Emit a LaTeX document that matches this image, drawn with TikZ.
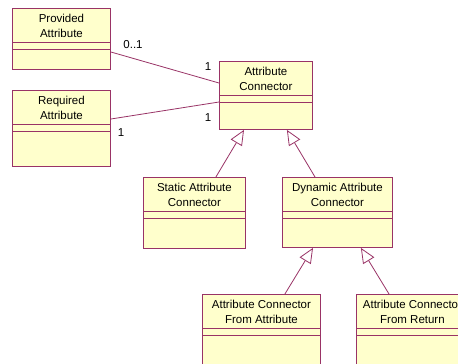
\documentclass[tikz,border=0pt]{standalone}
\usepackage{fontspec}
\setmainfont{Liberation Sans}
\usetikzlibrary{arrows.meta,calc}

\definecolor{umlfill}{RGB}{255,255,204}
\definecolor{umlline}{RGB}{153,51,102}

\tikzset{
  cls/.style={draw=umlline, fill=umlfill, line width=0.9pt, rectangle,
    anchor=north west, inner sep=0pt},
  title/.style={font=\fontsize{11.5}{15}\selectfont, align=center,
    inner sep=0pt, text=black},
  mult/.style={font=\fontsize{11.5}{14}\selectfont, inner sep=0pt, text=black},
  assoc/.style={draw=umlline, line width=0.8pt},
  gen/.style={draw=umlline, line width=0.8pt,
    -{Triangle[open, length=15pt, width=13pt, fill=white]}},
}

% a class box: name, corner (x,y), width, height, title text
\newcommand{\umlclass}[6]{%
  \node[cls, minimum width=#4, minimum height=#5] (#1) at (#2,#3) {};
  \draw[umlline, line width=0.8pt]
    ([yshift=-34pt]#1.north west) -- ([yshift=-34pt]#1.north east)
    ([yshift=-41pt]#1.north west) -- ([yshift=-41pt]#1.north east);
  \node[title] (#1-name) at ([yshift=-17.5pt]#1.north) {#6};
}

\begin{document}
\begin{tikzpicture}[x=1pt, y=-1pt]
  \clip (0,0) rectangle (458,364);
  \fill[white] (0,0) rectangle (458,364);

  \umlclass{prov}{12}{8}{98}{61}{Provided\\Attribute}
  \umlclass{req}{12}{90}{98}{76}{Required\\Attribute}
  \umlclass{ac}{219}{61}{93}{68}{Attribute\\Connector}
  \umlclass{stat}{143}{177}{102}{71}{Static Attribute\\Connector}
  \umlclass{dyn}{282}{177}{110}{70}{Dynamic Attribute\\Connector}
  \umlclass{fromattr}{202}{294}{118}{90}{Attribute Connector\\From Attribute}
  \umlclass{fromret}{356}{294}{112}{90}{Attribute Connector\\From Return}

  % associations
  \draw[assoc] ([yshift=-44pt]prov.north east) -- ([yshift=-22pt]ac.north west);
  \draw[assoc] ([yshift=-29pt]req.north east) -- ([yshift=-41pt]ac.north west);

  \node[mult] (m1) at (133,45) {0..1};
  \node[mult] (m2) at (208,67) {1};
  \node[mult] (m3) at (208,118) {1};
  \node[mult] (m4) at (121,133) {1};

  % generalizations
  \draw[gen] ([xshift=-30pt]stat.north east) -- ([xshift=25pt]ac.south west);
  \draw[gen] ([xshift=33pt]dyn.north west) -- ([xshift=-26pt]ac.south east);
  \draw[gen] ([xshift=-36pt]fromattr.north east) -- ([xshift=31pt]dyn.south west);
  \draw[gen] ([xshift=33pt]fromret.north west) -- ([xshift=-32pt]dyn.south east);
\end{tikzpicture}
\end{document}
